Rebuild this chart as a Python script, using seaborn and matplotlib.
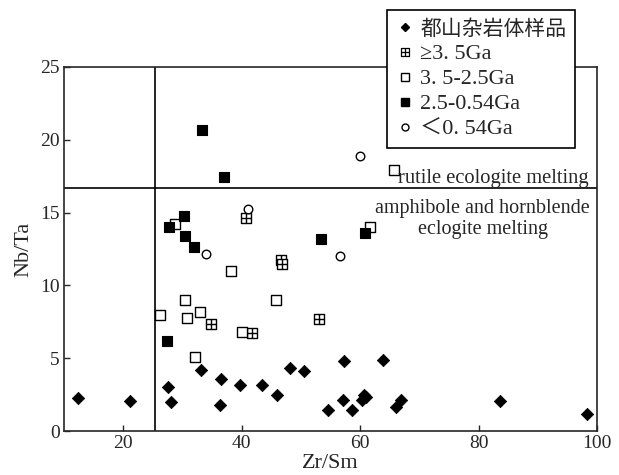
import numpy as np
import pandas as pd
import matplotlib
matplotlib.use("Agg")
import matplotlib.pyplot as plt
from matplotlib.path import Path
from matplotlib.lines import Line2D
import seaborn as sns

# data (Zr/Sm vs Nb/Ta)
dushan_x = [12.4, 21.2, 27.5, 28.1, 33.2, 36.5, 36.3, 39.8, 43.4, 45.9, 48.1, 50.5,
            54.5, 57.3, 57.1, 58.7, 60.4, 61.0, 60.6, 63.8, 66.1, 66.9, 83.7, 98.3]
dushan_y = [2.3, 2.07, 3.03, 2.0, 4.19, 3.56, 1.77, 3.17, 3.15, 2.48, 4.3, 4.09,
            1.43, 4.83, 2.1, 1.43, 2.12, 2.37, 2.48, 4.9, 1.66, 2.1, 2.07, 1.15]

ge35_x = [40.8, 34.8, 41.8, 46.6, 46.8, 53.1]
ge35_y = [14.6, 7.36, 6.76, 11.75, 11.45, 7.7]

g35_25_x = [28.7, 38.2, 30.4, 26.2, 30.8, 32.9, 40.0, 45.75, 32.1, 65.7, 61.6]
g35_25_y = [14.25, 10.99, 8.97, 8.0, 7.75, 8.19, 6.83, 9.01, 5.1, 17.9, 14.0]

g25_054_x = [33.3, 37.1, 30.2, 27.7, 30.5, 32.0, 27.4, 53.4, 60.8]
g25_054_y = [20.64, 17.43, 14.76, 14.02, 13.38, 12.64, 6.2, 13.2, 13.6]

lt054_x = [41.05, 34.0, 56.65, 60.05]
lt054_y = [15.22, 12.14, 12.0, 18.9]

legend_labels = ["都山杂岩体样品", "≥3. 5Ga", "3. 5-2.5Ga", "2.5-0.54Ga", "＜0. 54Ga"]

x_ticks = [20, 40, 60, 80, 100]
y_ticks = [0, 5, 10, 15, 20, 25]
zr_sm_limit = 25.3
nb_ta_limit = 16.7

sns.set_style("ticks")
plt.rcParams["font.family"] = ["Liberation Serif", "Noto Sans CJK SC"]
plt.rcParams["axes.linewidth"] = 1.2

# square with a cross inside
crossed_square = Path(
    [(-1, -1), (1, -1), (1, 1), (-1, 1), (-1, -1),
     (-1, 0), (1, 0), (0, -1), (0, 1)],
    [Path.MOVETO, Path.LINETO, Path.LINETO, Path.LINETO, Path.CLOSEPOLY,
     Path.MOVETO, Path.LINETO, Path.MOVETO, Path.LINETO])

fig = plt.figure(figsize=(6.19, 4.75), dpi=100)
ax = fig.add_axes([0.1034, 0.0926, 0.861, 0.7664])

sns.scatterplot(x=dushan_x, y=dushan_y, marker="D", s=40, color="black",
                edgecolor="black", linewidth=0.5, ax=ax, zorder=3)
sns.scatterplot(x=ge35_x, y=ge35_y, marker=crossed_square, s=50, facecolor="white",
                edgecolor="black", linewidth=1.0, ax=ax, zorder=3)
sns.scatterplot(x=g35_25_x, y=g35_25_y, marker="s", s=54, facecolor="white",
                edgecolor="black", linewidth=1.0, ax=ax, zorder=3)
sns.scatterplot(x=g25_054_x, y=g25_054_y, marker="s", s=52, color="black",
                edgecolor="black", linewidth=0.8, ax=ax, zorder=4)
sns.scatterplot(x=lt054_x, y=lt054_y, marker="o", s=38, facecolor="white",
                edgecolor="black", linewidth=1.0, ax=ax, zorder=4)

# boundary lines
ax.axvline(zr_sm_limit, color="black", lw=1.2, zorder=2)
ax.axhline(nb_ta_limit, color="black", lw=1.2, zorder=2)

ax.text(98.6, nb_ta_limit + 0.02, "rutile ecologite melting", ha="right", va="bottom",
        fontsize=14.8)
ax.text(80.7, nb_ta_limit - 0.8, "amphibole and hornblende\neclogite melting",
        ha="center", va="top", fontsize=14.5, linespacing=1.1)

ax.set_xlim(10, 100)
ax.set_ylim(0, 25)
ax.set_xticks(x_ticks)
ax.set_yticks(y_ticks)
ax.tick_params(direction="in", length=4, width=1, labelsize=14, pad=3)
ax.set_xlabel("Zr/Sm", fontsize=16, labelpad=1.5)
ax.set_ylabel("Nb/Ta", fontsize=16, labelpad=5)

handles = [
    Line2D([], [], ls="", marker="D", ms=4.5, color="black"),
    Line2D([], [], ls="", marker=crossed_square, ms=6, mfc="white", mec="black", mew=0.9),
    Line2D([], [], ls="", marker="s", ms=6, mfc="white", mec="black", mew=1.0),
    Line2D([], [], ls="", marker="s", ms=6, color="black"),
    Line2D([], [], ls="", marker="o", ms=5, mfc="white", mec="black", mew=1.0),
]
leg = fig.legend(handles, legend_labels, loc="upper left", bbox_to_anchor=(0.625, 0.979),
                 fontsize=16, frameon=True, fancybox=False, framealpha=1,
                 edgecolor="black", handlelength=0.8, handletextpad=0.3,
                 labelspacing=0.2, borderpad=0.4, borderaxespad=0)
leg.get_frame().set_linewidth(1.2)
leg.get_texts()[0].set_fontsize(15)
leg.set_zorder(10)

fig.savefig("out.png", dpi=100)
